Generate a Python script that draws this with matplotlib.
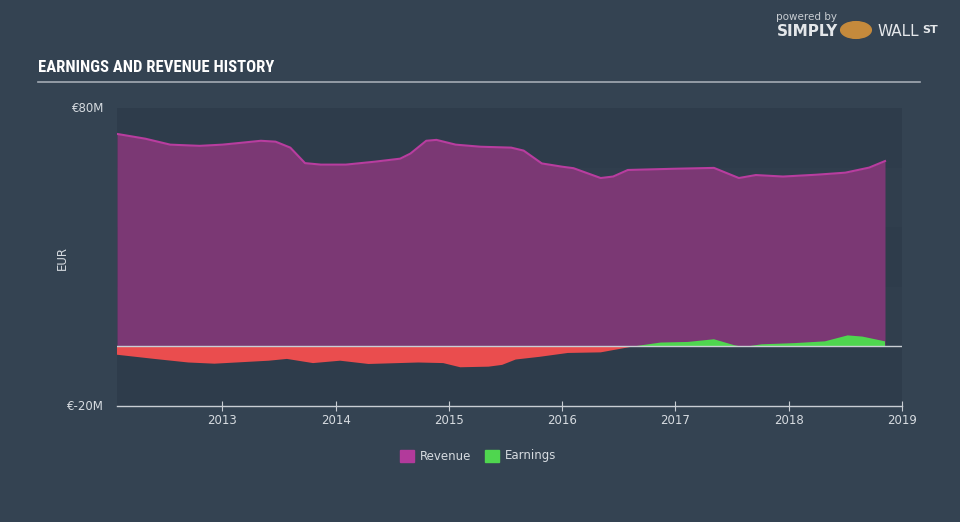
import matplotlib
matplotlib.use("Agg")
import matplotlib.pyplot as plt
from matplotlib import font_manager
from matplotlib.patches import Rectangle
import numpy as np

# Values (EUR millions, decimal years)
rev_years = [2012.07, 2012.32, 2012.54, 2012.80, 2013.00, 2013.16, 2013.34, 2013.47,
             2013.60, 2013.73, 2013.87, 2014.09, 2014.35, 2014.57, 2014.66, 2014.80,
             2014.89, 2015.06, 2015.28, 2015.55, 2015.66, 2015.82, 2016.00, 2016.10,
             2016.34, 2016.45, 2016.58, 2016.98, 2017.34, 2017.56, 2017.71, 2017.95,
             2018.24, 2018.50, 2018.71, 2018.85]
revenue = [71.3, 69.7, 67.7, 67.3, 67.7, 68.3, 69.0, 68.7,
           66.7, 61.5, 61.0, 61.0, 62.0, 63.0, 64.7, 69.0,
           69.3, 67.7, 67.0, 66.7, 65.7, 61.4, 60.3, 59.8,
           56.5, 57.0, 59.2, 59.6, 59.9, 56.5, 57.5, 57.0,
           57.6, 58.3, 60.0, 62.2]

earn_years = [2012.07, 2012.40, 2012.70, 2012.93, 2013.41, 2013.57, 2013.80, 2014.04,
              2014.29, 2014.73, 2014.95, 2015.10, 2015.35, 2015.47, 2015.59, 2015.80,
              2016.05, 2016.34, 2016.63, 2016.87, 2017.11, 2017.34, 2017.52, 2017.60,
              2017.76, 2018.05, 2018.32, 2018.52, 2018.65, 2018.85]
earnings = [-2.8, -4.2, -5.4, -5.8, -4.8, -4.2, -5.6, -4.8,
            -5.9, -5.4, -5.6, -7.0, -6.8, -6.2, -4.4, -3.5,
            -2.2, -2.0, 0.0, 1.3, 1.5, 2.4, 0.4, -0.2,
            0.7, 1.1, 1.7, 3.7, 3.3, 1.7]

year_ticks = [2013, 2014, 2015, 2016, 2017, 2018, 2019]

BG = "#344352"
PANEL = "#2e3c4b"
TXT = "#d6dbe0"


def pick_font(names):
    for n in names:
        try:
            font_manager.findfont(n, fallback_to_default=False)
            return n
        except Exception:
            pass
    return "DejaVu Sans"


title_font = pick_font(["Liberation Sans Narrow", "DejaVu Sans Condensed", "Roboto Condensed"])
title_size = 12 if title_font != "DejaVu Sans" else 10.5

fig = plt.figure(figsize=(9.6, 5.22), dpi=100)
fig.patch.set_facecolor(BG)

# title + rule
fig.text(38 / 960, 1 - 68 / 522, "EARNINGS AND REVENUE HISTORY", color="white",
         fontsize=title_size, fontweight="bold", family=title_font,
         fontstretch="condensed", va="center", ha="left")
fig.add_artist(plt.Line2D([38 / 960, 920 / 960], [1 - 82 / 522] * 2,
                          color="#a3abb4", lw=1.2))

# logo text
fig.text(806 / 960, 1 - 17 / 522, "powered by", color="#c8cdd2", fontsize=7.5,
         ha="center", va="center")
fig.text(808 / 960, 1 - 32 / 522, "SIMPLY", color="#e4e7ea", fontsize=11,
         fontweight="bold", ha="center", va="center")
fig.add_artist(plt.Circle((856 / 960, 1 - 30 / 522), 0.016, color="#c58a3c",
                          transform=fig.transFigure))
fig.text(878 / 960, 1 - 32 / 522, "WALL", color="#e4e7ea", fontsize=11,
         ha="left", va="center")
fig.text(930 / 960, 1 - 30 / 522, "ST", color="#e4e7ea", fontsize=8,
         fontweight="bold", ha="center", va="center")

ax = fig.add_axes([117 / 960, 1 - 406 / 522, 785 / 960, 298 / 522])
ax.set_facecolor(PANEL)
ax.set_xlim(2012.07, 2019.0)
ax.set_ylim(-20, 80)

# faint horizontal bands
for i, (lo, hi) in enumerate([(-20, 0), (0, 20), (20, 40), (40, 60), (60, 80)]):
    if i % 2 == 1:
        ax.axhspan(lo, hi, color="#324050", alpha=0.5, lw=0, zorder=0)

ry = np.array(rev_years)
rv = np.array(revenue)
ax.fill_between(ry, 0, rv, color="#7b3874", lw=0, zorder=2)
ax.plot(ry, rv, color="#b83d9f", lw=1.5, zorder=3)

ey = np.array(earn_years)
ev = np.array(earnings)
ax.fill_between(ey, 0, ev, where=ev <= 0, interpolate=True, color="#ea4d4e", lw=0, zorder=4)
ax.fill_between(ey, 0, ev, where=ev >= 0, interpolate=True, color="#4fd64f", lw=0, zorder=4)

ax.axhline(0, color="#c9ced4", lw=1, zorder=5)

for s in ["top", "right", "left"]:
    ax.spines[s].set_visible(False)
ax.spines["bottom"].set_color("#c9ced4")
ax.spines["bottom"].set_linewidth(1)

ax.set_yticks([])
ax.set_xticks(year_ticks)
ax.set_xticklabels([str(y) for y in year_ticks])
ax.tick_params(axis="x", colors="#c9ced4", labelcolor=TXT, labelsize=8.5,
               length=7, direction="inout", pad=2)

fig.text(104 / 960, 1 - 108 / 522, "€80M", color=TXT, fontsize=8.5, ha="right", va="center")
fig.text(104 / 960, 1 - 406 / 522, "€-20M", color=TXT, fontsize=8.5, ha="right", va="center")
fig.text(62 / 960, 1 - 258 / 522, "EUR", color=TXT, fontsize=8.5, rotation=90,
         ha="center", va="center")

# legend
for x0, col, lab in [(400, "#b23a9b", "Revenue"), (485, "#4fd64f", "Earnings")]:
    fig.add_artist(Rectangle((x0 / 960, 1 - 462 / 522), 14 / 960, 12 / 522,
                             color=col, transform=fig.transFigure))
    fig.text((x0 + 20) / 960, 1 - 456 / 522, lab, color=TXT, fontsize=8.5,
             ha="left", va="center")

fig.savefig("out.png", dpi=100, facecolor=BG)
